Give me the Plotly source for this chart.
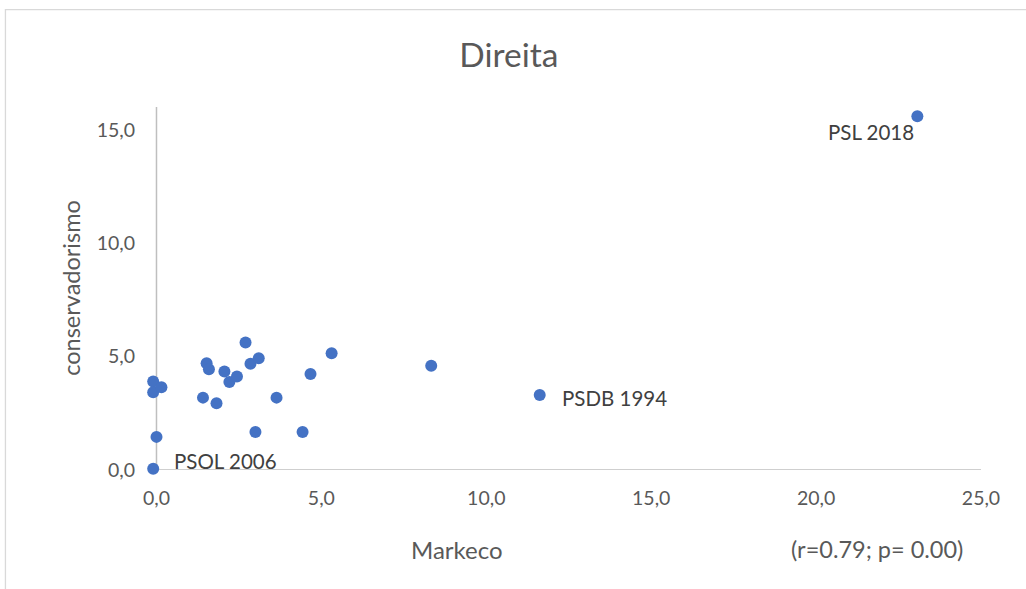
import plotly.graph_objects as go

# Data (Markeco vs conservadorismo)
markeco = [2.70, 1.52, 1.59, 2.06, 2.21, 2.44, 2.85, 3.10, 4.67, 5.31,
           -0.10, -0.10, 0.15, 1.41, 1.82, 3.64, 3.00, 4.43, 0.00, -0.10,
           8.33, 11.62, 23.07]
conserv = [5.62, 4.71, 4.44, 4.34, 3.88, 4.12, 4.68, 4.93, 4.23, 5.15,
           3.90, 3.43, 3.65, 3.19, 2.94, 3.19, 1.68, 1.68, 1.46, 0.06,
           4.59, 3.31, 15.59]

labels = ["PSL 2018", "PSDB 1994", "PSOL 2006"]
label_x = [23.07, 11.62, -0.10]
label_y = [15.59, 3.31, 0.06]

x_ticks = [0, 5, 10, 15, 20, 25]
y_ticks = [0, 5, 10, 15]
x_min, x_max = 0, 25
y_min, y_max = 0, 16

title_text = "Direita"
x_title = "Markeco"
y_title = "conservadorismo"
stat_text = "(r=0.79; p= 0.00)"

FONT = "Lato, Carlito, 'Open Sans', sans-serif"
GREY = "#595959"
AXIS = "#bfbfbf"

fig = go.Figure()
fig.add_trace(go.Scatter(
    x=markeco, y=conserv, mode="markers",
    marker=dict(size=12, color="#4472C4"),
    cliponaxis=False, showlegend=False, hoverinfo="x+y",
))

label_style = [
    dict(xanchor="right", yanchor="middle", xshift=-1, yshift=-16),
    dict(xanchor="left", yanchor="middle", xshift=20, yshift=-3),
    dict(xanchor="left", yanchor="middle", xshift=19, yshift=8),
]
annotations = []
for t, lx, ly, st in zip(labels, label_x, label_y, label_style):
    annotations.append(dict(x=lx, y=ly, xref="x", yref="y", text=t, showarrow=False,
                            font=dict(family=FONT, size=20.5, color="#404040"), **st))

annotations += [
    dict(x=-0.082, y=0.502, xref="paper", yref="paper", text=y_title, textangle=-90,
         showarrow=False, xanchor="center", yanchor="middle",
         font=dict(family=FONT, size=23.5, color=GREY)),
    dict(x=0.3773, y=-0.218, xref="paper", yref="paper", text=x_title,
         showarrow=False, xanchor="center", yanchor="middle",
         font=dict(family=FONT, size=24, color=GREY)),
    dict(x=0.8764, y=-0.218, xref="paper", yref="paper", text=stat_text,
         showarrow=False, xanchor="center", yanchor="middle",
         font=dict(family=FONT, size=23.5, color=GREY)),
]

fig.update_layout(
    width=1026, height=589,
    margin=dict(l=139.5, r=45, t=107, b=119, autoexpand=False),
    paper_bgcolor="white", plot_bgcolor="white",
    separators=", ",
    title=dict(text=title_text, x=0.496, xref="container", xanchor="center",
               y=0.9066, yref="container", yanchor="middle",
               font=dict(family=FONT, size=33.5, color=GREY)),
    xaxis=dict(range=[-0.5, x_max], tickvals=x_ticks, tickformat=".1f", showgrid=False,
               zeroline=False, showline=False, ticks="", ticklabelstandoff=14,
               tickfont=dict(family=FONT, size=19.5, color=GREY)),
    yaxis=dict(range=[y_min, y_max], tickvals=y_ticks, tickformat=".1f", showgrid=False,
               zeroline=False, showline=False, ticks="", ticklabelstandoff=4,
               tickfont=dict(family=FONT, size=19.5, color=GREY)),
    annotations=annotations,
    shapes=[
        dict(type="rect", xref="paper", yref="paper", x0=-0.16, x1=1.058,
             y0=-0.4, y1=1.268, line=dict(color="#d9d9d9", width=1.3),
             fillcolor="rgba(0,0,0,0)", layer="below"),
        dict(type="line", xref="x", yref="y", x0=x_min, x1=x_max, y0=y_min, y1=y_min,
             line=dict(color=AXIS, width=1.5), layer="below"),
        dict(type="line", xref="x", yref="y", x0=x_min, x1=x_min, y0=y_min, y1=y_max,
             line=dict(color=AXIS, width=1.5), layer="below"),
    ],
)

fig.write_html("out.html", config={"displayModeBar": False},
               post_script="document.body.style.margin='0';")
